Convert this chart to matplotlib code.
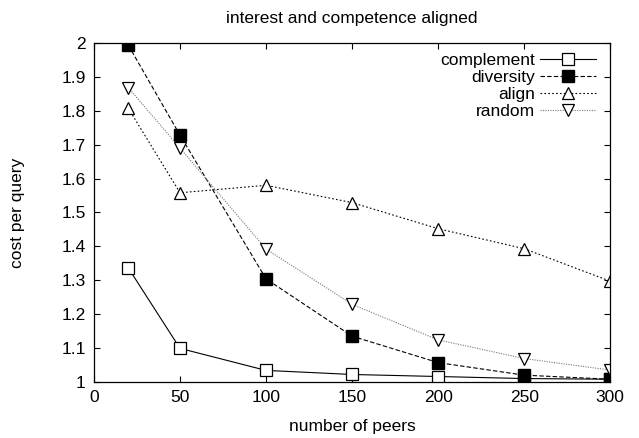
import matplotlib
matplotlib.use("Agg")
import matplotlib.pyplot as plt

plt.rcParams['font.family'] = ['Liberation Sans', 'DejaVu Sans']

peers = [20, 50, 100, 150, 200, 250, 300]
complement = [1.336, 1.099, 1.034, 1.022, 1.016, 1.010, 1.008]
diversity = [1.993, 1.728, 1.304, 1.135, 1.057, 1.020, 1.008]
align = [1.807, 1.558, 1.580, 1.529, 1.452, 1.393, 1.297]
random = [1.868, 1.690, 1.392, 1.229, 1.124, 1.069, 1.035]

fs = 12.5
fig = plt.figure(figsize=(6.39, 4.38), dpi=100)
ax = fig.add_axes([0.147, 0.128, 0.808, 0.774])

lw = 0.8
ax.plot(peers, complement, color='black', lw=lw, ls='-', marker='s', ms=8,
        mfc='white', mec='black', mew=0.9, label='complement')
ax.plot(peers, diversity, color='black', lw=lw, ls=(0, (4, 2)), marker='s', ms=8,
        mfc='black', mec='black', label='diversity')
ax.plot(peers, align, color='black', lw=lw, ls=(0, (1.5, 2)), marker='^', ms=8,
        mfc='white', mec='black', mew=0.9, label='align')
ax.plot(peers, random, color='#777777', lw=lw, ls=(0, (1, 1.2)), marker='v', ms=8,
        mfc='white', mec='black', mew=0.9, label='random')

ax.set_xlim(0, 300)
ax.set_ylim(1, 2)
ax.set_xticks(range(0, 301, 50))
ax.set_yticks([1, 1.1, 1.2, 1.3, 1.4, 1.5, 1.6, 1.7, 1.8, 1.9, 2])
ax.set_yticklabels(['1', '1.1', '1.2', '1.3', '1.4', '1.5', '1.6', '1.7', '1.8', '1.9', '2'])
ax.tick_params(direction='in', top=True, right=True, length=4.5, width=0.8, labelsize=fs, pad=6)
for s in ax.spines.values():
    s.set_linewidth(0.9)

ax.set_xlabel("number of peers", fontsize=fs, labelpad=10)
ax.set_ylabel("cost per query", fontsize=fs, labelpad=26)
ax.set_title("interest and competence aligned", fontsize=fs, pad=14)

ax.legend(loc='upper right', frameon=False, markerfirst=False, fontsize=fs,
          handlelength=3.2, labelspacing=0.12, borderaxespad=0.3, handletextpad=0.3,
          borderpad=0.25, bbox_to_anchor=(0.99, 1.0))

fig.savefig("out.png", dpi=100)
